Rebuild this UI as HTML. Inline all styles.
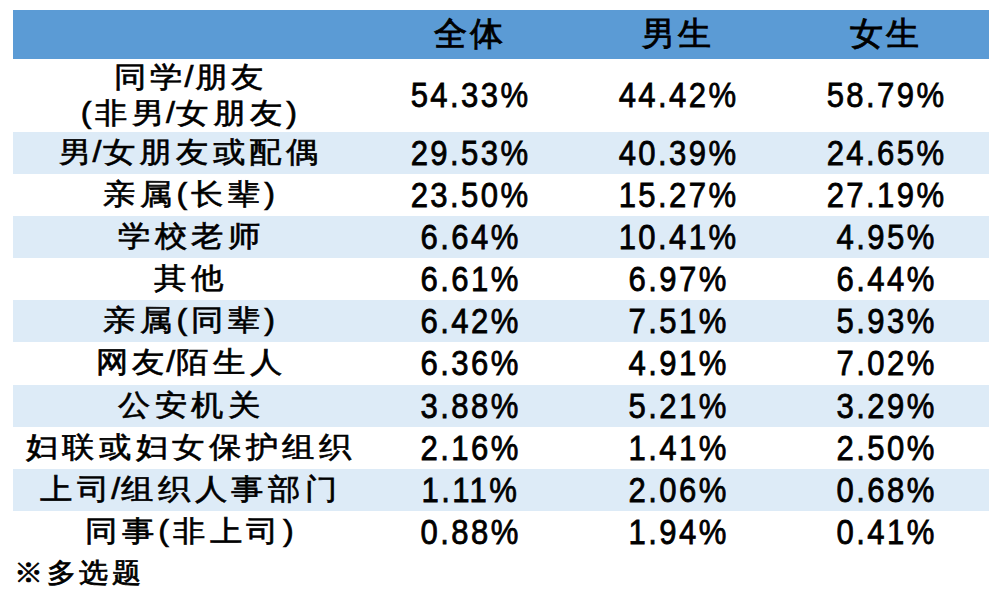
<!DOCTYPE html>
<html><head><meta charset="utf-8"><style>
html,body{margin:0;padding:0;background:#fff;}
body{width:1000px;height:600px;position:relative;overflow:hidden;font-family:"Liberation Sans",sans-serif;color:#000;}
.bg{position:absolute;left:13px;width:976px;}
.c{position:absolute;display:flex;align-items:center;justify-content:center;text-align:center;white-space:nowrap;}
.c span{display:block;}
i{font-style:normal;}
.n span{transform:translateY(-0.5px) scaleX(0.9);font-size:34.5px;letter-spacing:2.7px;-webkit-text-stroke:0.8px #000;margin-right:-2.7px;}
.l span{transform:translateY(-1px) scale(1.06,0.95);font-size:30.5px;letter-spacing:3.6px;-webkit-text-stroke:0.65px #000;margin-right:-3.6px;}
.h span{transform:translate(-0.5px,-0.5px);font-size:33px;letter-spacing:3px;-webkit-text-stroke:0.9px #000;margin-right:-3px;}
.l2 span{line-height:37px;transform:translateY(-1px) scale(1.06,0.95);}
i.s{margin-left:-2.5px;margin-right:-2.5px;}
i.p{margin-right:0px;}
i.q{margin-left:0px;}
.foot{transform:scaleY(0.93);transform-origin:0 5px;position:absolute;left:14px;top:555px;font-size:29px;letter-spacing:3.5px;-webkit-text-stroke:0.8px #000;}
</style></head><body>
<div class="bg" style="top:10px;height:49px;background:#5B9BD5"></div>
<div class="bg" style="top:132px;height:42px;background:#DDEBF7"></div>
<div class="bg" style="top:216px;height:42px;background:#DDEBF7"></div>
<div class="bg" style="top:300px;height:42px;background:#DDEBF7"></div>
<div class="bg" style="top:385px;height:42px;background:#DDEBF7"></div>
<div class="bg" style="top:469px;height:42px;background:#DDEBF7"></div>
<div class="c h" style="left:365px;width:208px;top:10px;height:49px"><span>全体</span></div>
<div class="c h" style="left:573px;width:208px;top:10px;height:49px"><span>男生</span></div>
<div class="c h" style="left:781px;width:208px;top:10px;height:49px"><span>女生</span></div>
<div class="c l l2" style="left:13px;width:352px;top:59px;height:73px"><span>同学<i class="s">/</i>朋友<br><i class="p">(</i>非男<i class="s">/</i>女朋友<i class="q">)</i></span></div>
<div class="c n" style="left:365px;width:208px;top:59px;height:73px"><span>54.33%</span></div>
<div class="c n" style="left:573px;width:208px;top:59px;height:73px"><span>44.42%</span></div>
<div class="c n" style="left:781px;width:208px;top:59px;height:73px"><span>58.79%</span></div>
<div class="c l" style="left:13px;width:352px;top:132px;height:42px"><span>男<i class="s">/</i>女朋友或配偶</span></div>
<div class="c n" style="left:365px;width:208px;top:132px;height:42px"><span>29.53%</span></div>
<div class="c n" style="left:573px;width:208px;top:132px;height:42px"><span>40.39%</span></div>
<div class="c n" style="left:781px;width:208px;top:132px;height:42px"><span>24.65%</span></div>
<div class="c l" style="left:13px;width:352px;top:174px;height:42px"><span>亲属<i class="p">(</i>长辈<i class="q">)</i></span></div>
<div class="c n" style="left:365px;width:208px;top:174px;height:42px"><span>23.50%</span></div>
<div class="c n" style="left:573px;width:208px;top:174px;height:42px"><span>15.27%</span></div>
<div class="c n" style="left:781px;width:208px;top:174px;height:42px"><span>27.19%</span></div>
<div class="c l" style="left:13px;width:352px;top:216px;height:42px"><span>学校老师</span></div>
<div class="c n" style="left:365px;width:208px;top:216px;height:42px"><span>6.64%</span></div>
<div class="c n" style="left:573px;width:208px;top:216px;height:42px"><span>10.41%</span></div>
<div class="c n" style="left:781px;width:208px;top:216px;height:42px"><span>4.95%</span></div>
<div class="c l" style="left:13px;width:352px;top:258px;height:42px"><span>其他</span></div>
<div class="c n" style="left:365px;width:208px;top:258px;height:42px"><span>6.61%</span></div>
<div class="c n" style="left:573px;width:208px;top:258px;height:42px"><span>6.97%</span></div>
<div class="c n" style="left:781px;width:208px;top:258px;height:42px"><span>6.44%</span></div>
<div class="c l" style="left:13px;width:352px;top:300px;height:42px"><span>亲属<i class="p">(</i>同辈<i class="q">)</i></span></div>
<div class="c n" style="left:365px;width:208px;top:300px;height:42px"><span>6.42%</span></div>
<div class="c n" style="left:573px;width:208px;top:300px;height:42px"><span>7.51%</span></div>
<div class="c n" style="left:781px;width:208px;top:300px;height:42px"><span>5.93%</span></div>
<div class="c l" style="left:13px;width:352px;top:342px;height:43px"><span>网友<i class="s">/</i>陌生人</span></div>
<div class="c n" style="left:365px;width:208px;top:342px;height:43px"><span>6.36%</span></div>
<div class="c n" style="left:573px;width:208px;top:342px;height:43px"><span>4.91%</span></div>
<div class="c n" style="left:781px;width:208px;top:342px;height:43px"><span>7.02%</span></div>
<div class="c l" style="left:13px;width:352px;top:385px;height:42px"><span>公安机关</span></div>
<div class="c n" style="left:365px;width:208px;top:385px;height:42px"><span>3.88%</span></div>
<div class="c n" style="left:573px;width:208px;top:385px;height:42px"><span>5.21%</span></div>
<div class="c n" style="left:781px;width:208px;top:385px;height:42px"><span>3.29%</span></div>
<div class="c l" style="left:13px;width:352px;top:427px;height:42px"><span>妇联或妇女保护组织</span></div>
<div class="c n" style="left:365px;width:208px;top:427px;height:42px"><span>2.16%</span></div>
<div class="c n" style="left:573px;width:208px;top:427px;height:42px"><span>1.41%</span></div>
<div class="c n" style="left:781px;width:208px;top:427px;height:42px"><span>2.50%</span></div>
<div class="c l" style="left:13px;width:352px;top:469px;height:42px"><span>上司<i class="s">/</i>组织人事部门</span></div>
<div class="c n" style="left:365px;width:208px;top:469px;height:42px"><span>1.11%</span></div>
<div class="c n" style="left:573px;width:208px;top:469px;height:42px"><span>2.06%</span></div>
<div class="c n" style="left:781px;width:208px;top:469px;height:42px"><span>0.68%</span></div>
<div class="c l" style="left:13px;width:352px;top:511px;height:42px"><span>同事<i class="p">(</i>非上司<i class="q">)</i></span></div>
<div class="c n" style="left:365px;width:208px;top:511px;height:42px"><span>0.88%</span></div>
<div class="c n" style="left:573px;width:208px;top:511px;height:42px"><span>1.94%</span></div>
<div class="c n" style="left:781px;width:208px;top:511px;height:42px"><span>0.41%</span></div>
<div class="foot">※多选题</div>
</body></html>
